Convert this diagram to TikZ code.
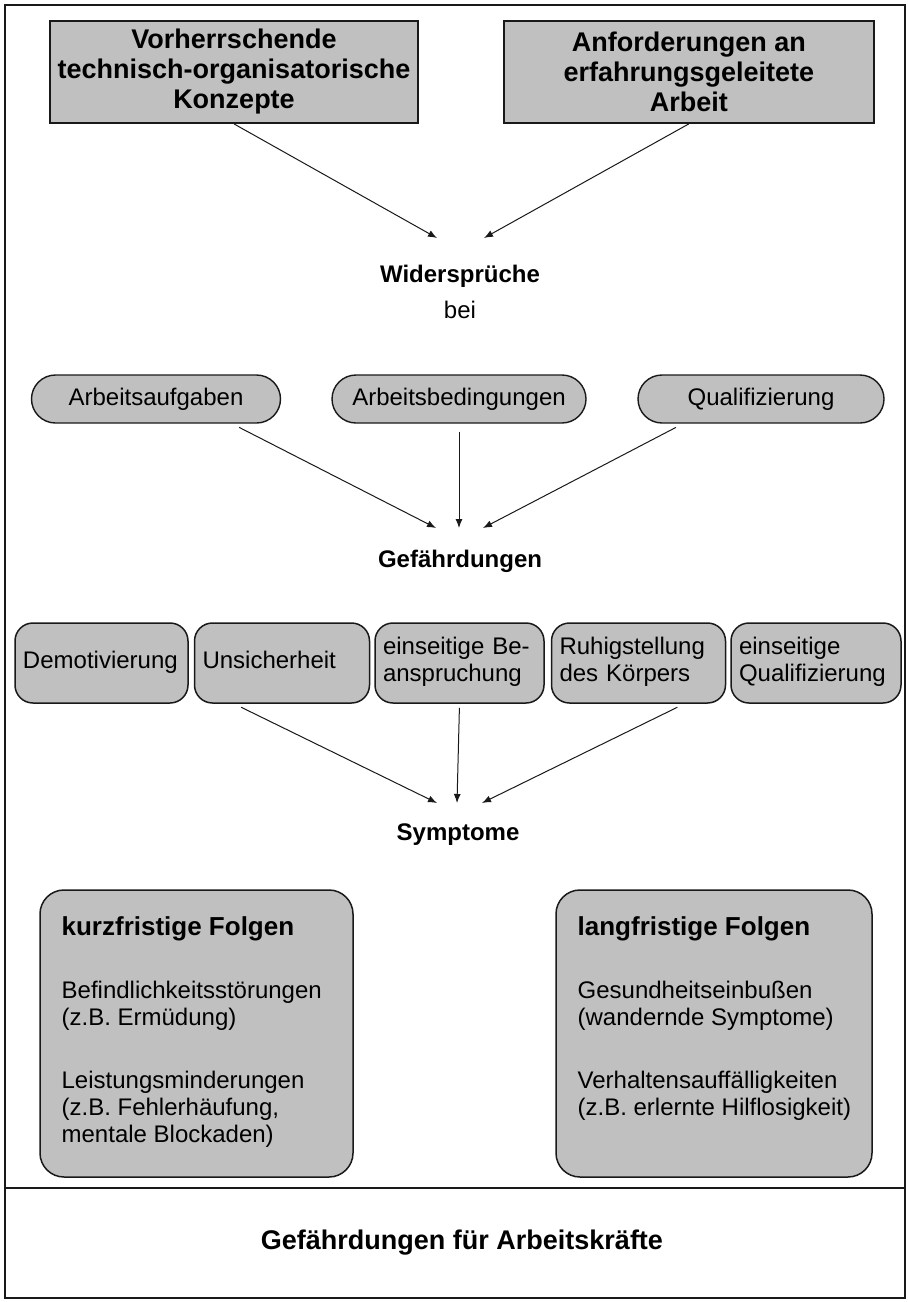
\documentclass[tikz,border=0pt]{standalone}
\usepackage{fontspec}
\setmainfont{Liberation Sans}
\usepackage{tikz}
\usetikzlibrary{arrows.meta, positioning, calc}
\definecolor{boxgray}{RGB}{192,192,192}
\definecolor{inkblack}{RGB}{25,25,25}

\begin{document}
\begin{tikzpicture}[
  x=0.5pt, y=-0.5pt,
  every node/.style = {inner sep=0pt, font=\fontsize{12}{13.5}\selectfont},
  frame/.style    = {draw=inkblack, line width=0.75pt},
  topbox/.style   = {rectangle, draw=inkblack, line width=0.9pt, fill=boxgray,
                     minimum height=51pt, align=center,
                     font=\fontsize{13.5}{15}\selectfont\bfseries},
  pill/.style     = {rectangle, rounded corners=12pt, draw=inkblack, line width=0.7pt,
                     fill=boxgray, minimum height=24pt, align=center},
  causebox/.style = {rectangle, rounded corners=9pt, draw=inkblack, line width=0.75pt,
                     fill=boxgray, minimum height=40pt, inner xsep=4pt, align=left,
                     execute at begin node=\strut, execute at end node=\strut},
  folgebox/.style = {rectangle, rounded corners=12pt, draw=inkblack, line width=0.75pt,
                     fill=boxgray, minimum height=143.5pt},
  folgetext/.style= {align=left, anchor=north west},
  stage/.style    = {font=\fontsize{12}{13.5}\selectfont\bfseries},
  arrow/.style    = {-{Latex[length=4.5pt,width=3.5pt]}, line width=0.5pt, color=inkblack},
]

%% --- Frame ---
\useasboundingbox (0,0) rectangle (908,1302);
\draw[frame] (5,5) rectangle (905,1298);
\draw[frame] (5,1188) -- (905,1188);

%% --- Concepts ---
\node[topbox, minimum width=184pt] (konz) at (234,72)
  {Vorherrschende\\technisch-organisatorische\\Konzepte};
\node[topbox, minimum width=185pt, right=42pt of konz] (anf)
  {Anforderungen an\\erfahrungsgeleitete\\Arbeit};

\node[stage] (wid) at (460,276) {Widersprüche};
\node (bei) at (460,310) {bei};

%% --- Fields ---
\node[pill, minimum width=124.5pt] (aufg) at (156,399) {Arbeitsaufgaben};
\node[pill, minimum width=127pt]   (bed)  at (459,399) {Arbeitsbedingungen};
\node[pill, minimum width=123pt]   (qual) at (761,399) {Qualifizierung};

\node[stage] (gef) at (460,561) {Gefährdungen};

%% --- Hazards ---
\node[causebox, text width=78.5pt] (demo) at (101.5,663) {Demotivierung};
\node[causebox, text width=79.5pt, right=2.5pt of demo] (unsi) {Unsicherheit};
\node[causebox, text width=76.5pt, right=2pt of unsi]   (bean) {einseitige Be-\\anspruchung};
\node[causebox, text width=79pt,   right=3pt of bean]   (ruhig){Ruhigstellung\\des Körpers};
\node[causebox, text width=77pt,   right=2pt of ruhig]  (einq) {einseitige\\Qualifizierung};

\node[stage] (sym) at (458,835) {Symptome};

%% --- Consequences ---
\node[folgebox, minimum width=156.5pt] (kurz) at (196.5,1033.5) {};
\node[folgebox, minimum width=158pt]   (lang) at (714,1033.5) {};

\node[folgetext] (kurztxt) at ($(kurz.north west)+(22,27)$)
  {{\fontsize{13}{13.5}\selectfont\bfseries kurzfristige Folgen}\\[18pt]
   Befindlichkeitsstörungen\\
   (z.B. Ermüdung)\\[18pt]
   Leistungsminderungen\\
   (z.B. Fehlerhäufung,\\
   mentale Blockaden)};
\node[folgetext] (langtxt) at ($(lang.north west)+(22,27)$)
  {{\fontsize{13}{13.5}\selectfont\bfseries langfristige Folgen}\\[18pt]
   Gesundheitseinbußen\\
   (wandernde Symptome)\\[18pt]
   Verhaltensauffälligkeiten\\
   (z.B. erlernte Hilflosigkeit)};

\node[stage, font=\fontsize{13.5}{15}\selectfont\bfseries] (kraefte) at (462,1243)
  {Gefährdungen für Arbeitskräfte};

%% --- Arrow ends ---
\coordinate (widL) at (437,238);
\coordinate (widR) at (484,238);
\coordinate (gefL) at (436,528);
\coordinate (gefM) at (459,528);
\coordinate (gefR) at (483,528);
\coordinate (symL) at (437,803);
\coordinate (symM) at (457,803);
\coordinate (symR) at (482,803);

%% --- Arrows ---
\draw[arrow] (konz.south) -- (widL);
\draw[arrow] (anf.south)  -- (widR);

\draw[arrow, shorten <=4pt] ([xshift=38pt]aufg.south)  -- (gefL);
\draw[arrow, shorten <=4pt] (bed.south)                -- (gefM);
\draw[arrow, shorten <=4pt] ([xshift=-39pt]qual.south) -- (gefR);

\draw[arrow, shorten <=4pt] ([xshift=-24pt]unsi.south) -- (symL);
\draw[arrow, shorten <=2pt] (bean.south)               -- (symM);
\draw[arrow, shorten <=4pt] ([xshift=23pt]ruhig.south) -- (symR);

\end{tikzpicture}
\end{document}
